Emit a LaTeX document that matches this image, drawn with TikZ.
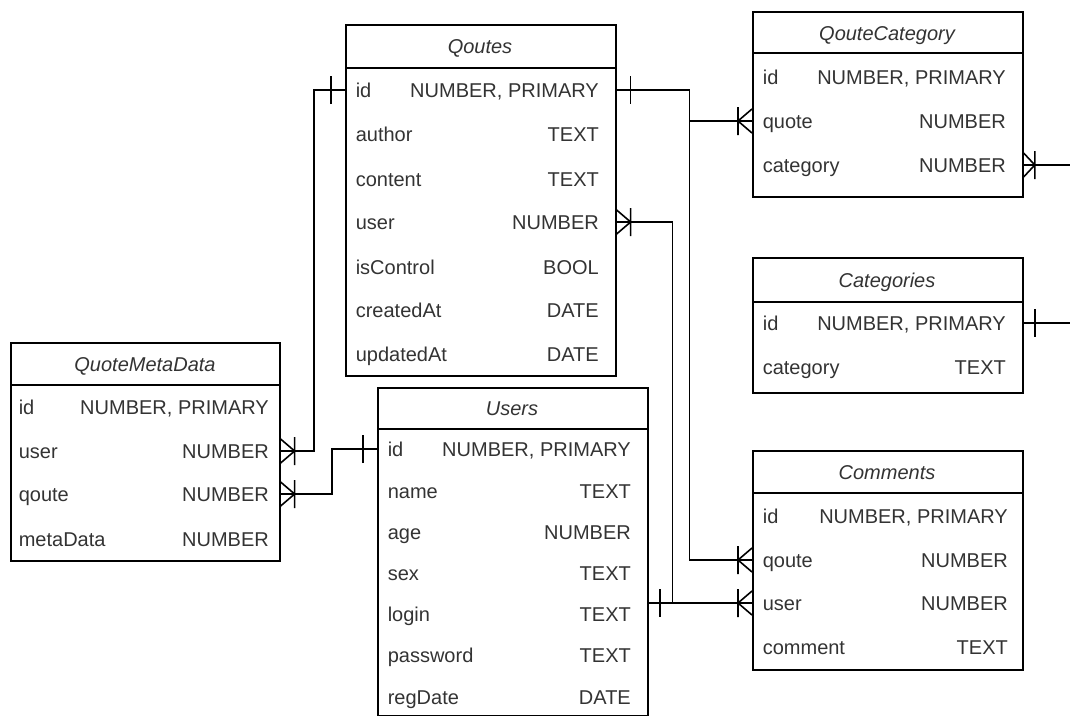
\documentclass[tikz,border=0pt]{standalone}
\usepackage{fontspec}
\setmainfont{Liberation Sans}
\usepackage{tikz}

% one table row: field name on the left, type on the right
\newcommand{\tblrow}[3][243pt]{\hbox to #1{#2\hfill #3}}

\begin{document}
\begin{tikzpicture}[x=1pt, y=-1pt, line width=1.6pt,
  tbl/.style={draw, anchor=north west, minimum width=270pt, inner sep=0pt},
  ttl/.style={font=\fontsize{20}{24}\selectfont\itshape, text=black!80, inner sep=0pt, text height=14pt, text depth=0pt},
  row/.style={anchor=west, font=\fontsize{20}{24}\selectfont, text=black!80, inner sep=0pt, text height=14pt, text depth=0pt},
  onebar/.pic={\draw (14,-14) -- (14,14);},
  crowfoot/.pic={\draw (0,-12) -- (14,0) -- (0,12) (14,-14) -- (14,14);}]
\useasboundingbox (0,0) rectangle (1070,715);
\clip (0,0) rectangle (1070,715);

% Qoutes
\node[tbl, minimum height=351pt] (qoutes) at (345,24) {};
\draw (qoutes.north west) ++(0,44) -- ++(270,0);
\node[ttl] (q-title) at (480,46) {Qoutes};
\node[row] (q-id) at (355,90) {\tblrow{id}{NUMBER, PRIMARY}};
\node[row] (q-author) at (355,134) {\tblrow{author}{TEXT}};
\node[row] (q-content) at (355,179) {\tblrow{content}{TEXT}};
\node[row] (q-user) at (355,222) {\tblrow{user}{NUMBER}};
\node[row] (q-control) at (355,267) {\tblrow{isControl}{BOOL}};
\node[row] (q-created) at (355,310) {\tblrow{createdAt}{DATE}};
\node[row] (q-updated) at (355,354) {\tblrow{updatedAt}{DATE}};

% QouteCategory
\node[tbl, minimum height=185pt] (qcat) at (752,11) {};
\draw (qcat.north west) ++(0,42) -- ++(270,0);
\node[ttl] (qc-title) at (887,33) {QouteCategory};
\node[row] (qc-id) at (762,77) {\tblrow{id}{NUMBER, PRIMARY}};
\node[row] (qc-quote) at (762,121) {\tblrow{quote}{NUMBER}};
\node[row] (qc-category) at (762,165) {\tblrow{category}{NUMBER}};

% Categories
\node[tbl, minimum height=135pt] (cats) at (752,257) {};
\draw (cats.north west) ++(0,45) -- ++(270,0);
\node[ttl] (ct-title) at (887,280) {Categories};
\node[row] (ct-id) at (762,323) {\tblrow{id}{NUMBER, PRIMARY}};
\node[row] (ct-category) at (762,367) {\tblrow{category}{TEXT}};

% Comments
\node[tbl, minimum height=219pt] (comments) at (752,450) {};
\draw (comments.north west) ++(0,43) -- ++(270,0);
\node[ttl] (cm-title) at (887,472) {Comments};
\node[row] (cm-id) at (762,516) {\tblrow[245pt]{id}{NUMBER, PRIMARY}};
\node[row] (cm-qoute) at (762,560) {\tblrow[245pt]{qoute}{NUMBER}};
\node[row] (cm-user) at (762,603) {\tblrow[245pt]{user}{NUMBER}};
\node[row] (cm-comment) at (762,647) {\tblrow[245pt]{comment}{TEXT}};

% Users
\node[tbl, minimum height=328pt] (users) at (377,387) {};
\draw (users.north west) ++(0,42) -- ++(270,0);
\node[ttl] (u-title) at (512,408) {Users};
\node[row] (u-id) at (387,449) {\tblrow{id}{NUMBER, PRIMARY}};
\node[row] (u-name) at (387,491) {\tblrow{name}{TEXT}};
\node[row] (u-age) at (387,532) {\tblrow{age}{NUMBER}};
\node[row] (u-sex) at (387,573) {\tblrow{sex}{TEXT}};
\node[row] (u-login) at (387,614) {\tblrow{login}{TEXT}};
\node[row] (u-password) at (387,655) {\tblrow{password}{TEXT}};
\node[row] (u-regdate) at (387,697) {\tblrow{regDate}{DATE}};

% QuoteMetaData
\node[tbl, minimum width=269pt, minimum height=218pt] (qmeta) at (10,342) {};
\draw (qmeta.north west) ++(0,43) -- ++(269,0);
\node[ttl] (qm-title) at (145,364) {QuoteMetaData};
\node[row] (qm-id) at (18,407) {\tblrow[250pt]{id}{NUMBER, PRIMARY}};
\node[row] (qm-user) at (18,451) {\tblrow[250pt]{user}{NUMBER}};
\node[row] (qm-qoute) at (18,494) {\tblrow[250pt]{qoute}{NUMBER}};
\node[row] (qm-meta) at (18,539) {\tblrow[250pt]{metaData}{NUMBER}};

% loose ends on the right
\coordinate (qc-out) at (1070,165);
\coordinate (ct-out) at (1070,323);

% relations
\draw (qoutes.west |- q-id) -- ++(-31,0) |- (qmeta.east |- qm-user);
\draw (users.west |- u-id) -- ++(-45,0) |- (qmeta.east |- qm-qoute);
\draw (qoutes.east |- q-id) -- ++(73,0) |- (qcat.west |- qc-quote);
\draw (qoutes.east |- q-id) -- ++(73,0) |- (comments.west |- cm-qoute);
\draw (qoutes.east |- q-user) -- ++(56,0) |- (comments.west |- cm-user);
\draw (users.east |- cm-user) -- (comments.west |- cm-user);
\draw (qcat.east |- qc-category) -- (qc-out);
\draw (cats.east |- ct-id) -- (ct-out);

% ends
\pic[rotate=180] at (qoutes.west |- q-id) {onebar};
\pic at (qmeta.east |- qm-user) {crowfoot};
\pic[rotate=180] at (users.west |- u-id) {onebar};
\pic at (qmeta.east |- qm-qoute) {crowfoot};
\pic at (qoutes.east |- q-id) {onebar};
\pic[rotate=180] at (qcat.west |- qc-quote) {crowfoot};
\pic[rotate=180] at (comments.west |- cm-qoute) {crowfoot};
\pic at (qoutes.east |- q-user) {crowfoot};
\pic[rotate=180] at (comments.west |- cm-user) {crowfoot};
\pic[xscale=0.8] at (users.east |- cm-user) {onebar};
\pic[xscale=0.8] at (qcat.east |- qc-category) {crowfoot};
\pic[xscale=0.8] at (cats.east |- ct-id) {onebar};
\end{tikzpicture}
\end{document}
